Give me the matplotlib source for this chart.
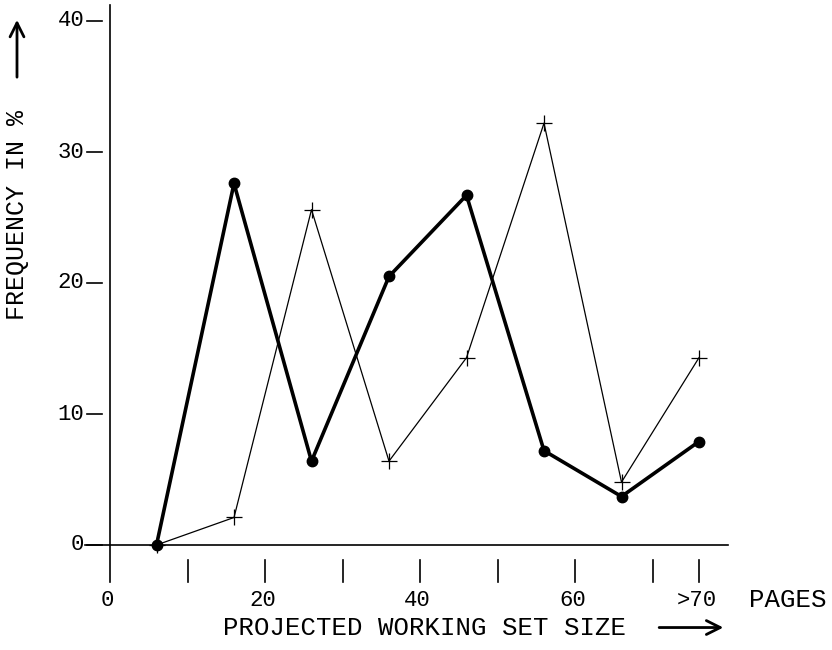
#frequency vs projected working set size

import numpy as np
import matplotlib.pyplot as plt

plt.rcParams['font.family'] = ['Liberation Mono', 'DejaVu Sans Mono']

# datos
x_pos = [6, 16, 26, 36, 46, 56, 66, 76]
serie_punto = [0, 27.6, 6.4, 20.5, 26.7, 7.2, 3.7, 7.9]
serie_cruz = [0, 2.1, 25.6, 6.4, 14.3, 32.2, 4.8, 14.3]

y_ticks = [0, 10, 20, 30, 40]
x_marks = [10, 20, 30, 40, 50, 60, 70, 76]
x_ticks = [0, 20, 40, 60, 76]
x_labels = ['0', '20', '40', '60', '>70']

fig = plt.figure(figsize=(8.32, 6.5), dpi=100)
ax = fig.add_axes([0, 0, 1, 1])
# 0 -> px 110, 7.75 px por unidad ; y 0 -> py 545, 13.1 px por unidad
ax.set_xlim(-110 / 7.75, (832 - 110) / 7.75)
ax.set_ylim((545 - 650) / 13.1, 545 / 13.1)
ax.axis('off')

# ejes
ax.plot([0, 0], [-2.8, 41.2], color='black', lw=1.2)
ax.plot([-3.2, 79.7], [0, 0], color='black', lw=1.2)

for v in y_ticks:
    ax.plot([-3.0, -1.0], [v, v], color='black', lw=1.2)
    ax.text(-3.3, v, str(v), ha='right', va='center', fontsize=16)

for v in x_marks:
    ax.plot([v, v], [-1.15, -2.8], color='black', lw=1.2)
for v, lab in zip(x_ticks, x_labels):
    ax.text(v - 0.3, -4.2, lab, ha='center', va='center', fontsize=16)

ax.text(87.4, -4.2, 'PAGES', ha='center', va='center', fontsize=18.5)
ax.text(40.6, -6.3, 'PROJECTED WORKING SET SIZE', ha='center', va='center', fontsize=18.5)
ax.annotate('', xy=(79.5, -6.3), xytext=(70.5, -6.3),
            arrowprops=dict(arrowstyle='->', lw=2, color='black', mutation_scale=25))

ax.text(-12.0, 25.2, 'FREQUENCY IN %', rotation=90, ha='center', va='center', fontsize=18)
ax.annotate('', xy=(-12.0, 40.3), xytext=(-12.0, 35.5),
            arrowprops=dict(arrowstyle='->', lw=2, color='black', mutation_scale=25))

# series
ax.plot(x_pos, serie_cruz, color='black', lw=0.9, marker='+', markersize=11,
        markeredgewidth=0.9)
ax.plot(x_pos, serie_punto, color='black', lw=2.6, marker='o', markersize=7.5)

fig.savefig('out.png', dpi=100)
